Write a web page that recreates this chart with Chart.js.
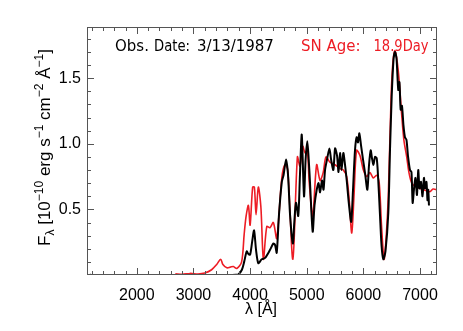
<!DOCTYPE html>
<html>
<head>
<meta charset="utf-8">
<script src="https://cdn.jsdelivr.net/npm/chart.js@4/dist/chart.umd.min.js"></script>
<style>
  html, body { margin: 0; padding: 0; background: #fff; }
  #wrap { width: 463px; height: 331px; }
</style>
</head>
<body>
<div id="wrap"><canvas id="spec" width="463" height="331"></canvas></div>
<script>
// observed spectrum (black); null breaks the line after the lone first point
const blackWave = [1180, 3000, 3640, 3790, 3855, 3895, 3940, 3970, 4000, 4035, 4070, 4105, 4145, 4205, 4265, 4350, 4410, 4440, 4470, 4510, 4560, 4590, 4635, 4670, 4705, 4755, 4780, 4810, 4850, 4880, 4912, 4952, 4980, 5010, 5035, 5058, 5105, 5137, 5176, 5208, 5235, 5270, 5296, 5323, 5358, 5400, 5430, 5470, 5500, 5535, 5561, 5588, 5614, 5646, 5676, 5706, 5747, 5785, 5817, 5852, 5882, 5905, 5929, 5958, 5994, 6030, 6070, 6100, 6129, 6152, 6179, 6205, 6235, 6258, 6293, 6320, 6352, 6390, 6440, 6470, 6500, 6532, 6558, 6585, 6616, 6637, 6658, 6681, 6708, 6734, 6761, 6787, 6823, 6849, 6870, 6893, 6920, 6946, 6969, 6991, 7017, 7044, 7070, 7088, 7114, 7132, 7146, 7158];
const blackFlux = [0.0, null, 0.0, 0.005, 0.04, 0.10, 0.18, 0.16, 0.155, 0.25, 0.34, 0.19, 0.09, 0.12, 0.13, 0.19, 0.24, 0.23, 0.17, 0.46, 0.71, 0.76, 0.88, 0.76, 0.46, 0.24, 0.40, 0.55, 0.45, 0.76, 1.07, 0.60, 0.88, 1.02, 0.88, 0.70, 0.33, 0.53, 0.65, 0.70, 0.63, 0.72, 0.65, 0.80, 0.88, 0.965, 0.88, 0.80, 0.965, 0.91, 0.785, 0.93, 0.80, 0.93, 0.84, 0.72, 0.53, 0.405, 0.65, 0.95, 1.05, 1.01, 1.08, 0.99, 0.88, 0.775, 0.65, 0.84, 0.95, 0.89, 0.84, 0.90, 0.89, 0.76, 0.46, 0.23, 0.12, 0.18, 0.47, 0.95, 1.36, 1.64, 1.70, 1.65, 1.41, 1.47, 1.26, 1.29, 1.14, 1.05, 1.03, 0.91, 0.80, 0.785, 0.55, 0.65, 0.74, 0.61, 0.80, 0.66, 0.71, 0.60, 0.74, 0.66, 0.71, 0.57, 0.65, 0.53];

// model spectrum (red)
const redWave = [2680, 2800, 2940, 3080, 3200, 3320, 3410, 3480, 3520, 3590, 3650, 3705, 3765, 3850, 3895, 3930, 3970, 4000, 4045, 4075, 4105, 4145, 4190, 4235, 4295, 4350, 4410, 4470, 4560, 4615, 4665, 4755, 4835, 4880, 4930, 4970, 5010, 5045, 5105, 5175, 5235, 5290, 5340, 5410, 5500, 5590, 5645, 5705, 5750, 5795, 5835, 5880, 5940, 6000, 6060, 6115, 6175, 6235, 6280, 6320, 6365, 6400, 6440, 6490, 6525, 6558, 6615, 6675, 6715, 6765, 6805, 6855, 6940, 7060, 7175, 7230, 7300];
const redFlux = [0.01, 0.005, 0.012, 0.008, 0.015, 0.04, 0.08, 0.12, 0.08, 0.055, 0.06, 0.065, 0.05, 0.10, 0.31, 0.45, 0.53, 0.38, 0.67, 0.67, 0.46, 0.67, 0.52, 0.12, 0.37, 0.36, 0.40, 0.28, 0.74, 0.84, 0.80, 0.12, 0.90, 0.83, 0.98, 0.93, 0.95, 0.70, 0.45, 0.84, 0.72, 0.78, 0.90, 0.86, 0.84, 0.81, 0.80, 0.75, 0.57, 0.32, 0.61, 0.95, 0.91, 0.80, 0.75, 0.78, 0.74, 0.76, 0.70, 0.38, 0.12, 0.27, 0.60, 1.36, 1.64, 1.71, 1.56, 1.23, 1.03, 0.90, 0.78, 0.70, 0.67, 0.65, 0.635, 0.655, 0.65];

// ticks
const xMajor = [2000, 3000, 4000, 5000, 6000, 7000];
const yMajor = [0.5, 1.0, 1.5];
const xMin = 1120, xMax = 7300;
const yMin = 0, yMax = 1.89;

const RED = "rgb(237,28,36)";

function pts(w, f) {
  return w.map((v, i) => ({ x: v, y: f[i] }));
}

// box with inward ticks, IDL style
const boxTicks = {
  id: "boxTicks",
  afterDatasetsDraw(chart) {
    const { ctx, chartArea: a, scales } = chart;
    const xs = scales.x, ys = scales.y;
    ctx.save();
    ctx.strokeStyle = "#555";
    ctx.lineWidth = 1;
    ctx.strokeRect(a.left + 0.5, a.top + 0.5, a.right - a.left - 1, a.bottom - a.top - 1);
    ctx.beginPath();
    // x minor every 200
    for (let v = 1200; v <= xMax; v += 200) {
      const px = Math.round(xs.getPixelForValue(v)) + 0.5;
      const len = v % 1000 === 0 ? 7 : 4;
      ctx.moveTo(px, a.bottom); ctx.lineTo(px, a.bottom - len);
      ctx.moveTo(px, a.top); ctx.lineTo(px, a.top + len);
    }
    // y minor every 0.1
    for (let k = 1; k <= 18; k++) {
      const py = Math.round(ys.getPixelForValue(k / 10)) + 0.5;
      const len = k % 5 === 0 ? 7 : 4;
      ctx.moveTo(a.left, py); ctx.lineTo(a.left + len, py);
      ctx.moveTo(a.right, py); ctx.lineTo(a.right - len, py);
    }
    ctx.stroke();

    // annotations
    ctx.font = "15px 'DejaVu Sans'";
    ctx.textBaseline = "alphabetic";
    ctx.textAlign = "left";
    ctx.fillStyle = "#000";
    ctx.fillText("Obs.", 115, 50.5, 36);
    ctx.fillText("Date:", 154, 50.5, 36);
    ctx.fillText("3/13/1987", 197, 50.5);
    ctx.fillStyle = RED;
    ctx.fillText("SN Age:", 301, 50.5, 61);
    ctx.fillText("18.9Day", 373.5, 50.5, 55);

    // x title
    ctx.fillStyle = "#000";
    ctx.font = "16px 'Liberation Sans'";
    ctx.textAlign = "center";
    ctx.fillText("\u03bb [\u00c5]", 261, 314);

    // y title, rotated, with sub/superscripts
    const parts = [
      ["F", 0], ["\u03bb", -1], [" [10", 0], ["\u221210", 1], [" erg s", 0], ["\u22121", 1],
      [" cm", 0], ["\u22122", 1], [" \u00c5", 0], ["\u22121", 1], ["]", 0]
    ];
    const big = "17px 'Liberation Sans'", small = "12px 'Liberation Sans'";
    let total = 0;
    parts.forEach(p => { ctx.font = p[1] ? small : big; total += ctx.measureText(p[0]).width; });
    ctx.translate(50, 147.5);
    ctx.rotate(-Math.PI / 2);
    ctx.textAlign = "left";
    let cx = -total / 2;
    parts.forEach(p => {
      ctx.font = p[1] ? small : big;
      const dy = p[1] === 1 ? -7 : (p[1] === -1 ? 4 : 0);
      ctx.fillText(p[0], cx, dy);
      cx += ctx.measureText(p[0]).width;
    });
    ctx.restore();
  }
};

new Chart(document.getElementById("spec"), {
  type: "line",
  data: {
    datasets: [
      {
        data: pts(blackWave, blackFlux),
        borderColor: "#000",
        backgroundColor: "#000",
        borderWidth: 2,
        pointRadius: c => (c.dataIndex === 0 ? 1.2 : 0),
        pointBorderWidth: 0,
        tension: 0.25,
        order: 0
      },
      {
        data: pts(redWave, redFlux),
        borderColor: RED,
        borderWidth: 1.6,
        pointRadius: 0,
        tension: 0.3,
        order: 1
      }
    ]
  },
  options: {
    responsive: false,
    animation: false,
    layout: { padding: { top: 27, right: 26, left: 0, bottom: 0 } },
    plugins: {
      legend: { display: false },
      tooltip: { enabled: false }
    },
    scales: {
      x: {
        type: "linear",
        min: xMin,
        max: xMax,
        grid: { display: false, drawTicks: false },
        border: { display: false },
        afterBuildTicks: s => { s.ticks = xMajor.map(v => ({ value: v })); },
        afterFit: s => { s.height = 56; },
        ticks: {
          padding: 11,
          color: "#000",
          font: { family: "Liberation Sans", size: 16 },
          maxRotation: 0,
          autoSkip: false,
          callback: v => String(v)
        }
      },
      y: {
        min: yMin,
        max: yMax,
        grid: { display: false, drawTicks: false },
        border: { display: false },
        afterBuildTicks: s => { s.ticks = yMajor.map(v => ({ value: v })); },
        afterFit: s => { s.width = 87; },
        ticks: {
          padding: 6,
          color: "#000",
          font: { family: "Liberation Sans", size: 16 },
          callback: v => v.toFixed(1)
        }
      }
    }
  },
  plugins: [boxTicks]
});
</script>
</body>
</html>
